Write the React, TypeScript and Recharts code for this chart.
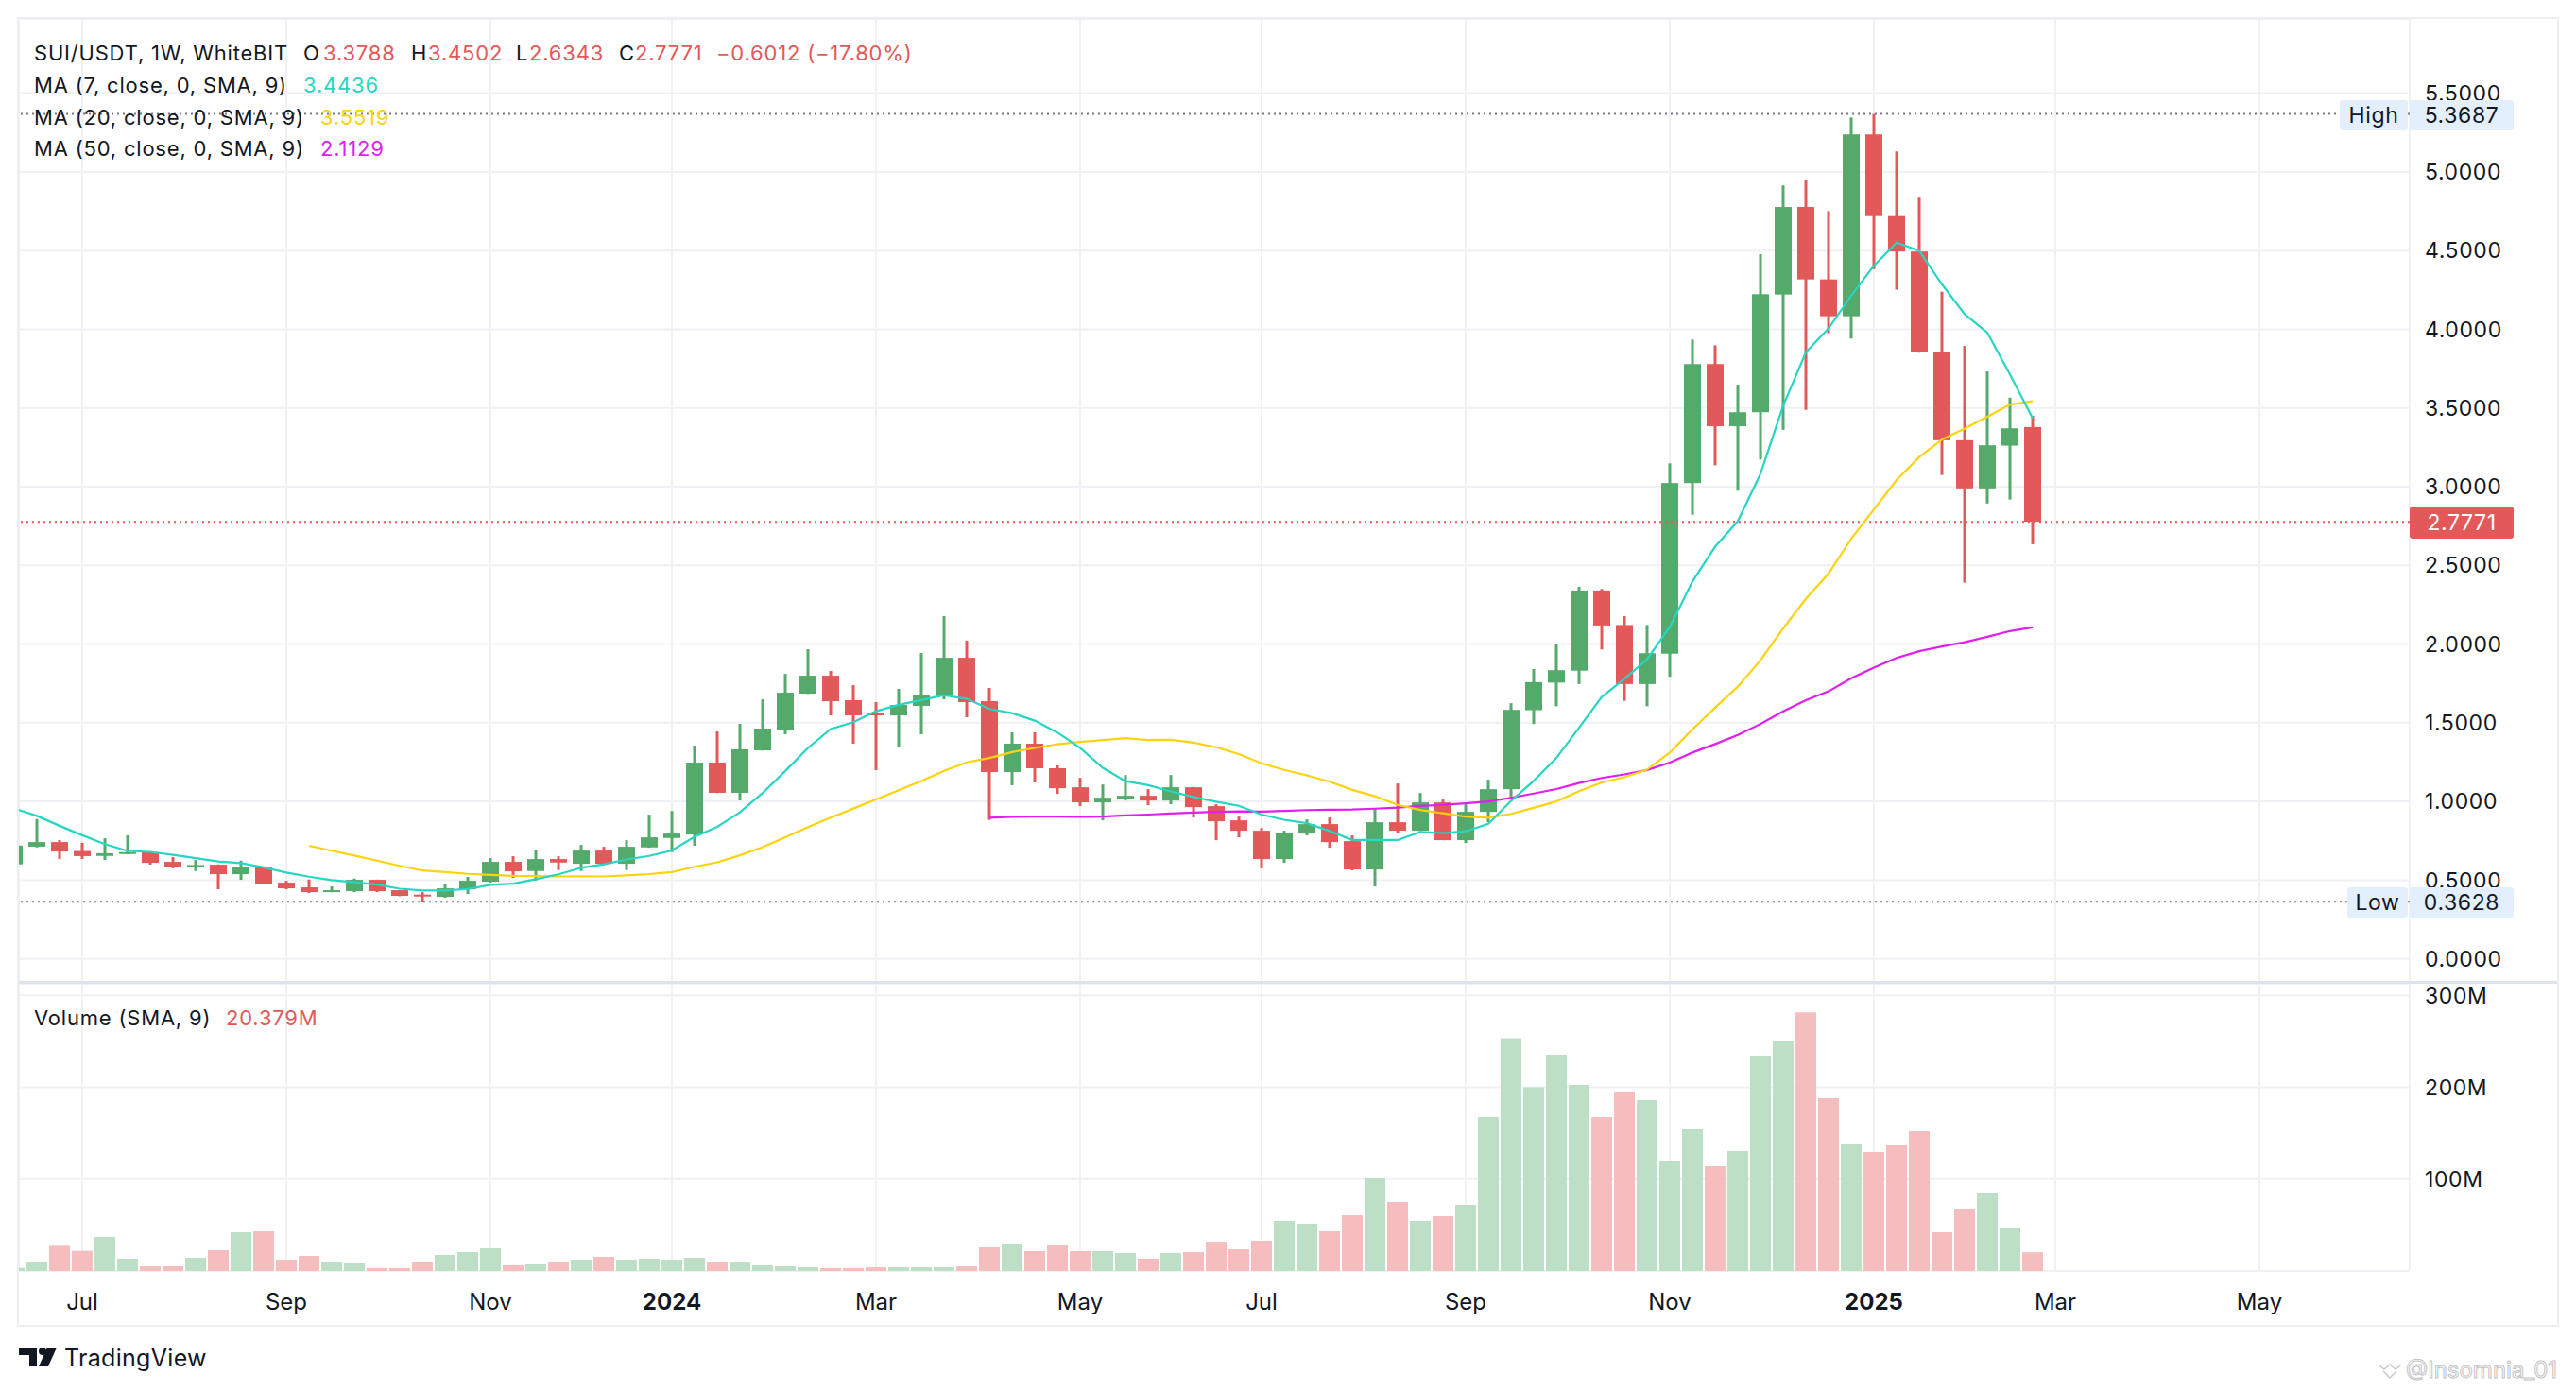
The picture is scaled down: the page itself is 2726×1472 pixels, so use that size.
import React from "react";
import {
  ComposedChart,
  Bar,
  Line,
  XAxis,
  YAxis,
  CartesianGrid,
  ReferenceLine,
  Cell,
} from "recharts";

// weekly candles, index 0 = week of Jul 3 2023; first visible week is index -3
const firstIndex = -3;

const opens = [
  0.6, 0.713, 0.742, 0.685, 0.654, 0.666, 0.678, 0.616, 0.588, 0.598,
  0.538, 0.582, 0.484, 0.454, 0.424, 0.43, 0.502, 0.436, 0.408, 0.394,
  0.442, 0.49, 0.616, 0.558, 0.634, 0.604, 0.688, 0.604, 0.708, 0.768,
  0.79, 1.247, 1.055, 1.325, 1.457, 1.685, 1.799, 1.643, 1.559, 1.547,
  1.607, 1.667, 1.913, 1.637, 1.187, 1.367, 1.211, 1.09, 0.994, 1.018,
  1.036, 1.006, 1.09, 0.97, 0.88, 0.814, 0.634, 0.796, 0.856, 0.748,
  0.568, 0.868, 0.814, 0.994, 0.754, 0.934, 1.078, 1.58, 1.755, 1.831,
  2.34, 2.121, 1.746, 1.939, 3.023, 3.779, 3.384, 3.473, 4.221, 4.777,
  4.317, 4.083, 5.238, 4.719, 4.494, 3.858, 3.295, 2.989, 3.261, 3.3788,
];
const highs = [
  0.735, 0.888, 0.755, 0.737, 0.766, 0.785, 0.68, 0.646, 0.628, 0.6,
  0.624, 0.584, 0.496, 0.504, 0.46, 0.51, 0.503, 0.437, 0.424, 0.478,
  0.52, 0.64, 0.652, 0.688, 0.652, 0.724, 0.712, 0.754, 0.916, 0.94,
  1.355, 1.445, 1.493, 1.649, 1.811, 1.967, 1.829, 1.739, 1.631, 1.715,
  1.943, 2.177, 2.021, 1.721, 1.439, 1.439, 1.229, 1.15, 1.108, 1.168,
  1.078, 1.168, 1.092, 0.982, 0.904, 0.832, 0.814, 0.886, 0.898, 0.784,
  0.958, 1.114, 1.054, 1.012, 0.982, 1.138, 1.624, 1.841, 1.997, 2.364,
  2.35, 2.178, 2.121, 3.148, 3.935, 3.898, 3.648, 4.477, 4.914, 4.951,
  4.751, 5.346, 5.3687, 5.13, 4.836, 4.239, 3.894, 3.732, 3.566, 3.4502,
];
const lows = [
  0.59, 0.708, 0.635, 0.635, 0.628, 0.664, 0.599, 0.575, 0.558, 0.442,
  0.502, 0.472, 0.442, 0.418, 0.423, 0.424, 0.424, 0.398, 0.3628, 0.388,
  0.412, 0.484, 0.514, 0.498, 0.564, 0.558, 0.598, 0.564, 0.706, 0.678,
  0.718, 1.053, 1.007, 1.323, 1.427, 1.683, 1.547, 1.367, 1.199, 1.349,
  1.427, 1.649, 1.535, 0.883, 1.103, 1.121, 1.048, 0.97, 0.88, 1.006,
  0.976, 0.982, 0.898, 0.754, 0.772, 0.574, 0.61, 0.784, 0.706, 0.562,
  0.46, 0.796, 0.812, 0.754, 0.736, 0.868, 1.018, 1.492, 1.605, 1.746,
  1.966, 1.639, 1.605, 1.792, 2.821, 3.136, 2.974, 3.173, 3.361, 3.488,
  3.975, 3.941, 4.382, 4.252, 3.851, 3.074, 2.39, 2.893, 2.918, 2.6343,
];
const closes = [
  0.72, 0.742, 0.682, 0.653, 0.671, 0.678, 0.61, 0.586, 0.596, 0.538,
  0.582, 0.478, 0.448, 0.424, 0.436, 0.502, 0.43, 0.4, 0.396, 0.448,
  0.496, 0.616, 0.556, 0.634, 0.612, 0.688, 0.604, 0.712, 0.772, 0.796,
  1.247, 1.055, 1.331, 1.463, 1.691, 1.799, 1.637, 1.547, 1.547, 1.613,
  1.673, 1.913, 1.631, 1.187, 1.367, 1.211, 1.084, 0.994, 1.024, 1.036,
  1.006, 1.09, 0.964, 0.874, 0.814, 0.634, 0.802, 0.856, 0.742, 0.568,
  0.868, 0.814, 0.994, 0.754, 0.934, 1.078, 1.582, 1.758, 1.834, 2.34,
  2.118, 1.746, 1.942, 3.023, 3.779, 3.384, 3.473, 4.223, 4.777, 4.317,
  4.083, 5.238, 4.719, 4.494, 3.858, 3.295, 2.989, 3.263, 3.371, 2.7771,
];
// volume in millions
const volumes = [
  3.4, 10.3, 27.4, 21.9, 37.0, 13.4, 5.1, 5.1, 14.4, 22.6,
  42.1, 43.2, 12.3, 16.4, 10.3, 8.2, 3.1, 3.1, 10.3, 17.5,
  20.5, 24.7, 6.2, 7.2, 9.2, 12.3, 15.4, 12.3, 13.4, 12.3,
  14.4, 9.2, 9.2, 6.2, 5.1, 4.1, 3.1, 3.1, 4.1, 4.1,
  4.1, 4.1, 5.1, 25.7, 29.8, 21.6, 27.7, 21.6, 21.6, 19.5,
  13.4, 19.5, 20.5, 31.8, 23.6, 32.9, 54.5, 51.4, 43.2, 60.6,
  100.7, 75.0, 54.5, 59.6, 71.9, 167.5, 253.4, 200.0, 235.3, 202.4,
  167.5, 194.2, 186.0, 119.2, 154.1, 114.0, 130.5, 234.2, 249.7, 281.5,
  188.0, 137.7, 129.5, 136.6, 152.1, 42.1, 67.8, 85.3, 47.3, 20.379,
];
// closes of the six weeks left of the window (May 1 - Jun 5 2023), used by the averages
const hiddenCloses = [1.071, 1.123, 1.073, 1.063, 0.986, 0.652];

const timeTicks = [0, 9, 18, 26, 35, 44, 52, 61, 70, 79, 87, 96];
const timeLabels = ["Jul", "Sep", "Nov", "2024", "Mar", "May", "Jul", "Sep", "Nov", "2025", "Mar", "May"];
const priceTicks = [0, 0.5, 1, 1.5, 2, 2.5, 3, 3.5, 4, 4.5, 5, 5.5];
const volumeTicks = [100, 200, 300];

const UP = "#53aa6a";
const DOWN = "#e35858";
const UP_VOL = "#bcdfc5";
const DOWN_VOL = "#f5bdbd";
const MA7 = "#26d6c3";
const MA20 = "#fdd20e";
const MA50 = "#e11df2";
const INK = "#131722";
const GRID = "#f0f1f5";
const FONT = "Inter, 'Noto Sans', sans-serif";

const allCloses = [...hiddenCloses, ...closes];
function sma(j: number, n: number) {
  if (j + 1 < n) return null;
  let s = 0;
  for (let k = j - n + 1; k <= j; k++) s += allCloses[k];
  return s / n;
}

const rows = closes.map((c, k) => {
  const j = k + hiddenCloses.length;
  return {
    i: firstIndex + k,
    open: opens[k],
    high: highs[k],
    low: lows[k],
    close: c,
    range: [lows[k], highs[k]],
    vol: volumes[k],
    up: c >= opens[k],
    ma7: sma(j, 7),
    ma20: sma(j, 20),
    ma50: sma(j, 50),
  };
});

const xDomain: [number, number] = [-2.792, 102.625];

function Candle(props: any) {
  const { x, y, width, height, payload } = props;
  if (!payload) return null;
  const top = Math.min(y, y + height);
  const span = Math.abs(height);
  const { open, close, high, low } = payload;
  const k = high === low ? 0 : span / (high - low);
  const yOf = (v: number) => top + (high - v) * k;
  const color = close >= open ? UP : DOWN;
  const cx = x + width / 2;
  const bodyTop = yOf(Math.max(open, close));
  const bodyH = Math.max(2, Math.abs(yOf(open) - yOf(close)));
  return (
    <g>
      <rect x={cx - 1.5} y={top} width={3} height={span} fill={color} />
      <rect x={x} y={bodyTop} width={width} height={bodyH} fill={color} />
    </g>
  );
}

function TimeTick(props: any) {
  const { x, y, payload } = props;
  const label = timeLabels[timeTicks.indexOf(payload.value)];
  const bold = /^\d{4}$/.test(label);
  return (
    <text x={x} y={y + 24} dy="0.36em" textAnchor="middle" fontSize={24}
      fontWeight={bold ? 700 : 400} fill={INK} fontFamily={FONT}>
      {label}
    </text>
  );
}

function Txt({ x, y, color = INK, size = 22, weight = 400, spacing = 0.8, children }: any) {
  return (
    <div style={{
      position: "absolute", left: x, top: y, transform: "translateY(-50%)",
      color, fontSize: size, fontWeight: weight, lineHeight: 1, whiteSpace: "nowrap",
      letterSpacing: spacing,
    }}>
      {children}
    </div>
  );
}

function Tag({ x, y, w, h, bg, color = INK, children }: any) {
  return (
    <div style={{
      position: "absolute", left: x, top: y, width: w, height: h, background: bg,
      color, fontSize: 23, borderRadius: 3, display: "flex", alignItems: "center",
      justifyContent: "center", lineHeight: 1, letterSpacing: 0.6,
    }}>
      {children}
    </div>
  );
}

const axisTick = { fontSize: 23, fill: INK, fontFamily: FONT, letterSpacing: 0.6 };

export default function App() {
  return (
    <div style={{
      position: "fixed", left: 0, top: 0, width: 2726, height: 1472,
      background: "#fff", fontFamily: FONT, overflow: "hidden",
    }}>
      <div style={{
        position: "absolute", left: 18, top: 18, width: 2690, height: 1386,
        border: "2px solid #eceef3", boxSizing: "border-box",
      }} />

      <div style={{ position: "absolute", left: 20, top: 20 }}>
        <ComposedChart width={2686} height={1019} data={rows}
          margin={{ top: 0, right: 0, bottom: 0, left: 0 }}>
          <CartesianGrid stroke={GRID} strokeWidth={2} />
          <XAxis dataKey="i" type="number" domain={xDomain} allowDataOverflow
            ticks={timeTicks} interval={0} hide />
          <YAxis orientation="right" width={156} domain={[-0.146, 5.972]} allowDataOverflow
            ticks={priceTicks} tickFormatter={(v: number) => v.toFixed(4)}
            axisLine={false} tickLine={false} tickMargin={10} tick={axisTick} />
          <ReferenceLine y={5.3687} stroke="#787b86" strokeWidth={2} strokeDasharray="2 4" />
          <ReferenceLine y={0.3628} stroke="#787b86" strokeWidth={2} strokeDasharray="2 4" />
          <ReferenceLine y={2.7771} stroke={DOWN} strokeWidth={2} strokeDasharray="2 4" />
          <Bar dataKey="range" barSize={18} shape={<Candle />} isAnimationActive={false} />
          <Line dataKey="ma50" type="linear" stroke={MA50} strokeWidth={2.2} dot={false} isAnimationActive={false} />
          <Line dataKey="ma20" type="linear" stroke={MA20} strokeWidth={2.2} dot={false} isAnimationActive={false} />
          <Line dataKey="ma7" type="linear" stroke={MA7} strokeWidth={2.2} dot={false} isAnimationActive={false} />
        </ComposedChart>
      </div>

      <div style={{ position: "absolute", left: 20, top: 1038, width: 2686, height: 3, background: "#e0e3eb" }} />

      <div style={{ position: "absolute", left: 20, top: 1041 }}>
        <ComposedChart width={2686} height={361} data={rows}
          margin={{ top: 0, right: 0, bottom: 0, left: 0 }}>
          <CartesianGrid stroke={GRID} strokeWidth={2} />
          <XAxis dataKey="i" type="number" domain={xDomain} allowDataOverflow ticks={timeTicks}
            height={57} axisLine={false} tickLine={false} tick={<TimeTick />} interval={0} />
          <YAxis orientation="right" width={156} domain={[0, 312.5]} allowDataOverflow
            ticks={volumeTicks} tickFormatter={(v: number) => `${v}M`}
            axisLine={false} tickLine={false} tickMargin={10} tick={axisTick} />
          <Bar dataKey="vol" barSize={22} isAnimationActive={false}>
            {rows.map((r) => (
              <Cell key={r.i} fill={r.up ? UP_VOL : DOWN_VOL} />
            ))}
          </Bar>
        </ComposedChart>
      </div>

      <Txt x={36} y={56}>SUI/USDT, 1W, WhiteBIT</Txt>
      <Txt x={321} y={56}>O</Txt>
      <Txt x={342} y={56} color={DOWN}>3.3788</Txt>
      <Txt x={435} y={56}>H</Txt>
      <Txt x={453} y={56} color={DOWN}>3.4502</Txt>
      <Txt x={546} y={56}>L</Txt>
      <Txt x={560} y={56} color={DOWN}>2.6343</Txt>
      <Txt x={655} y={56}>C</Txt>
      <Txt x={672} y={56} color={DOWN}>2.7771</Txt>
      <Txt x={758} y={56} color={DOWN}>−0.6012 (−17.80%)</Txt>

      <Txt x={36} y={90}>MA (7, close, 0, SMA, 9)</Txt>
      <Txt x={321} y={90} color={MA7}>3.4436</Txt>
      <Txt x={36} y={124}>MA (20, close, 0, SMA, 9)</Txt>
      <Txt x={339} y={124} color={MA20}>3.5519</Txt>
      <Txt x={36} y={157}>MA (50, close, 0, SMA, 9)</Txt>
      <Txt x={339} y={157} color={MA50}>2.1129</Txt>

      <Txt x={36} y={1077}>Volume (SMA, 9)</Txt>
      <Txt x={239} y={1077} color={DOWN}>20.379M</Txt>

      <Tag x={2476} y={106} w={72} h={32} bg="#e3effd">High</Tag>
      <Tag x={2550} y={106} w={110} h={32} bg="#e3effd">5.3687</Tag>
      <Tag x={2484} y={939} w={64} h={32} bg="#e3effd">Low</Tag>
      <Tag x={2550} y={939} w={110} h={32} bg="#e3effd">0.3628</Tag>
      <Tag x={2550} y={536} w={110} h={34} bg={DOWN} color="#fff">2.7771</Tag>

      <svg style={{ position: "absolute", left: 20, top: 1424 }} width={42} height={24}>
        <rect x={0} y={2} width={19} height={8} fill={INK} />
        <rect x={11} y={2} width={8} height={20} fill={INK} />
        <circle cx={25} cy={6} r={4} fill={INK} />
        <polygon points="30,2 40,2 31,22 21,22" fill={INK} />
      </svg>
      <Txt x={68} y={1437} size={25} spacing={0.3}>TradingView</Txt>

      <svg style={{ position: "absolute", left: 2514, top: 1438 }} width={30} height={24}>
        <polyline points="3,6 9,11 15,6 21,11 27,6" fill="none" stroke="#c9c9c9" strokeWidth={1.5} />
        <polyline points="8,13 15,20 22,13" fill="none" stroke="#c9c9c9" strokeWidth={1.5} />
      </svg>
      <div style={{
        position: "absolute", left: 2546, top: 1450, transform: "translateY(-50%)",
        fontSize: 24, lineHeight: 1, color: "#fff", WebkitTextStroke: "1px #c4c4c4",
        whiteSpace: "nowrap",
      }}>
        @Insomnia_01
      </div>
    </div>
  );
}
